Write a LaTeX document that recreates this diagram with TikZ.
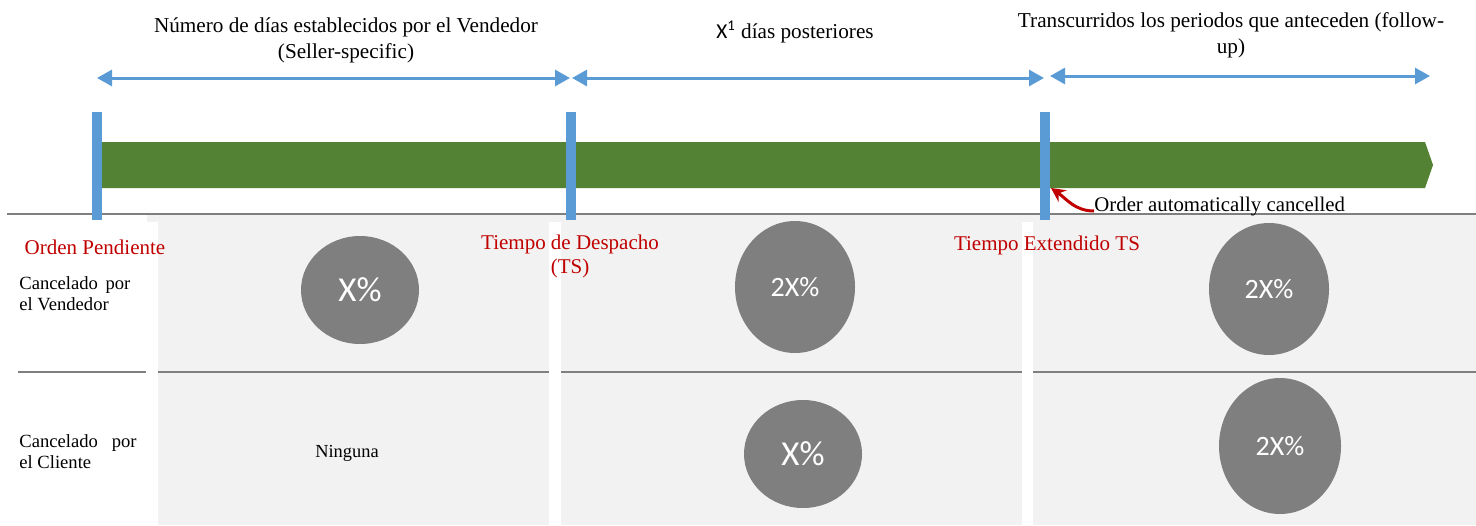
\documentclass[tikz,border=0pt]{standalone}
\usepackage{fontspec}
\setmainfont{Liberation Serif}
\newfontfamily\calibri{Carlito}
\usetikzlibrary{arrows.meta,shapes.geometric}
\definecolor{barblue}{HTML}{5B9BD5}
\definecolor{bargreen}{HTML}{548235}
\definecolor{panelgrey}{HTML}{F2F2F2}
\definecolor{dotgrey}{HTML}{7F7F7F}
\definecolor{darkred}{HTML}{C00000}
\tikzset{
  span/.style={barblue, line width=1.5pt,
    {Triangle[length=7.5pt,width=8pt]}-{Triangle[length=7.5pt,width=8pt]}},
  milestone/.style={fill=barblue, inner sep=0, minimum width=5pt, minimum height=54pt},
  rate/.style={ellipse, fill=dotgrey, text=white, inner sep=0,
    font=\calibri\fontsize{14}{16}\selectfont},
  bigrate/.style={rate, font=\calibri\fontsize{17.5}{20}\selectfont},
  stage/.style={text=darkred, font=\fontsize{10.5}{12}\selectfont, align=center,
    inner sep=0, anchor=base},
  heading/.style={font=\fontsize{10.6}{13}\selectfont, align=center, inner sep=0, anchor=base},
  rowlabel/.style={font=\fontsize{9.3}{10.5}\selectfont, align=left, inner sep=0,
    anchor=base west},
  rule/.style={dotgrey, line width=0.8pt},
}
\begin{document}
\begin{tikzpicture}[x=0.5pt, y=-0.5pt]
  \useasboundingbox (0,0) rectangle (1476,525);

  % grey panels
  \fill[panelgrey] (147,214) rectangle (549,222);
  \fill[panelgrey] (158,214) rectangle (549,525);
  \fill[panelgrey] (549,214) rectangle (1022,222);
  \fill[panelgrey] (561,214) rectangle (1022,525);
  \fill[panelgrey] (1022,214) rectangle (1476,222);
  \fill[panelgrey] (1033,214) rectangle (1476,525);
  \draw[rule] (7,214) -- (1476,214);
  \draw[rule, line width=1pt] (18,372) -- (146,372);
  \draw[rule] (158,372) -- (549,372);
  \draw[rule] (561,372) -- (1022,372);
  \draw[rule] (1033,372) -- (1476,372);

  % timeline
  \fill[bargreen] (102,142) -- (1425,142) -- (1433,165) -- (1425,188) -- (102,188) -- cycle;
  \node[milestone] (pend) at (97,166) {};
  \node[milestone] (desp) at (571,166) {};
  \node[milestone] (ext) at (1045,166) {};

  \coordinate (a0) at (97,78);
  \coordinate (a1) at (570,78);
  \coordinate (b0) at (572,78);
  \coordinate (b1) at (1044,78);
  \coordinate (c0) at (1050,76);
  \coordinate (c1) at (1430,76);
  \draw[span] (a0) -- (a1);
  \draw[span] (b0) -- (b1);
  \draw[span] (c0) -- (c1);

  % base of a two-line node is its last line
  \node[heading] (seller) at (346,58) {Número de días establecidos por el Vendedor\\(Seller-specific)};
  \node[heading] (post) at (795,38) {{\calibri X\textsuperscript{1}} días posteriores};
  \node[heading] (follow) at (1231,53) {Transcurridos los periodos que anteceden (follow-\\up)};

  % stages
  \node[stage] (pendlbl) at (95,254) {Orden Pendiente};
  \node[stage] (desplbl) at (570,273) {Tiempo de Despacho\\(TS)};
  \node[stage] (extlbl) at (1047,250) {Tiempo Extendido TS};

  \node[inner sep=0, anchor=base west, font=\fontsize{10.4}{12}\selectfont] (auto) at (1094,211)
    {Order automatically cancelled};
  \coordinate (cut) at (1051,188);
  \draw[darkred, line width=1.5pt, -{Stealth[length=7pt,width=7pt]}]
    (auto.base west) to[out=180, in=-35] (cut);

  % rows
  \node[rowlabel] (vend) at (19,310) {Cancelado\ \,por\\el Vendedor};
  \node[rowlabel] (cli) at (19,468) {Cancelado\ \ \ por\\el Cliente};
  \node[inner sep=0, anchor=base, font=\fontsize{9.2}{11}\selectfont] (none) at (347,457) {Ninguna};

  \node[bigrate, minimum width=59pt, minimum height=54pt] (v1) at (360,290) {X\%};
  \node[rate, minimum width=60pt, minimum height=66pt] (v2) at (795,287) {2X\%};
  \node[bigrate, minimum width=59pt, minimum height=54pt] (c2) at (803,454) {X\%};
  \node[rate, minimum width=60pt, minimum height=66pt] (v3) at (1269,289) {2X\%};
  \node[rate, minimum width=61pt, minimum height=68pt] (c3) at (1280,446) {2X\%};
\end{tikzpicture}
\end{document}
